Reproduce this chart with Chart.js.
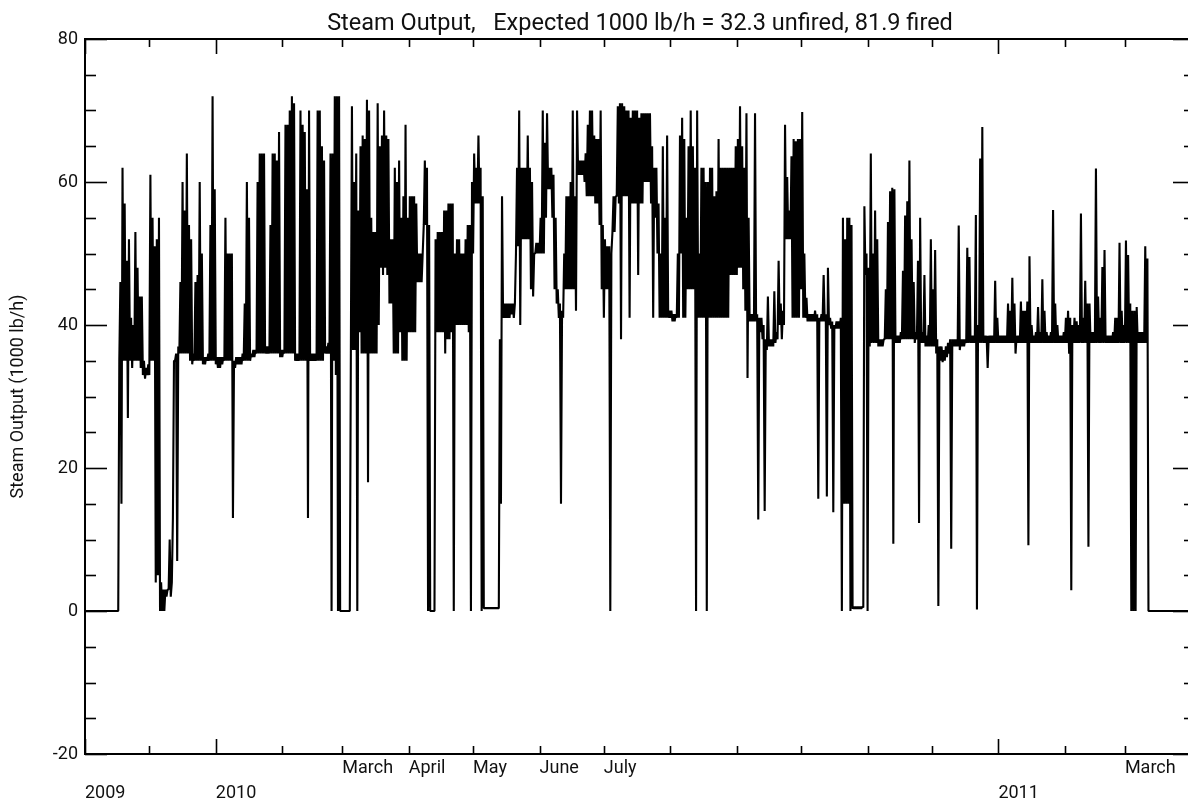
<!DOCTYPE html>
<html><head><meta charset="utf-8">
<script src="https://cdn.jsdelivr.net/npm/chart.js@4.4.1/dist/chart.umd.min.js"></script>
<style>
html,body{margin:0;padding:0;background:#fff;overflow:hidden;width:1188px;height:806px}
#wrap{position:absolute;left:0;top:0;width:1200px;height:806px}
</style></head><body><div id="wrap"><canvas id="c" width="1200" height="806"></canvas></div>
<script>
const FONT = "Roboto, 'Liberation Sans', sans-serif";
const titleText = 'Steam Output,   Expected 1000 lb/h = 32.3 unfired, 81.9 fired';
const yAxisTitle = 'Steam Output (1000 lb/h)';
// x axis: days counted from 1 Nov 2009; ticks at the first day of each month
const monthTickDays = [0,30,61,92,120,151,181,212,242,273,304,334,365,395,426,457,485];
const monthTickLabels = [['','2009'],'',['','2010'],'',['March'],['April'],['May'],['June'],['July'],'','','','','',['','2011'],'',['March']];
const yearTickDays = [0,61,426];
const yTickValues = [-20,-15,-10,-5,0,5,10,15,20,25,30,35,40,45,50,55,60,65,70,75,80];
// daily minimum / maximum of steam output (1000 lb/h), one entry per day
const dailyLow = [
0,0,0,0,0,0,0,0,0,0,
0,0,0,0,0,0,35,15,35,35,
27,35,34,35,35,35,34,33,32.5,33,
33,35,35,4,5,0,0,0,2,3,
2,13,35,7,36,36,36,36,36,35,
34.5,35,35,35,35,34.5,34.5,35,35,35,
35,34.5,34,34,34.5,35,35,35,35,13,
34,34.5,34.5,34.5,35,35,35,35,35.5,35.5,
36,36,36,36,36,36,36,36,36,36,
36,35.5,35.5,36,36,36,36,36,35,35,
35,35,35,35,13,35,35,35,35,35,
35,35,36,36,36,0,35,33,0,0,
0,0,0,0,36.5,36.5,36.5,0,39,36,
36,36,18,36,36,36,36,40,48,47,
48,47,43,43,36,36,36,39,35,35,
35,39,39,39,39,46,46,46,54,54,
0,0,0,0,39,39,39,39,36,38,
38,39,0,40,40,40,40,40,40,39,
0,50,57,57,57,0,0.4,0.4,0.4,0.4,
0.4,0.4,0.4,0.4,15,41,41,41,41,41.5,
41,50,51,40,52,52,52,52,45,44,
50,50,50,50,50,55,59,59,55,45,
43,41,15,41,45,45,45,45,45,42,
61,61,61,60,58,58,58,58,57,57,
54,45,41,45,45,0,53,53,58,57,
38,58,58,58,41,57,57,57,47,57,
57,60,60,60,57,41,55,50,41,41,
41,41,41,41,40.5,40.5,41,41,50,41,
41,45,45,45,45,0,41,41,41,41,
0,41,41,41,41,41,41,41,41,41,
41,47,47,47,47,48,48,45,42,32.6,
40.5,40.5,40.5,40.5,12.8,39,38,14,36.5,37,
37,37,37.5,38,40,38,40,52,52,52,
41,41,41,41,45,41,41,40.5,40.5,40.5,
40.5,40.5,15.7,40.5,40.5,40.5,16,40,39.5,13.8,
39.5,39.5,39.5,0,15,15,15,0,0.3,0.3,
0.3,0.3,0.3,0.5,47,0,37,37.5,37.5,37.5,
37,37,37,38,38,38,38,9.4,37.5,37.5,
37.5,38,38,38,38,38,38,37.5,38,12.3,
37.5,37.5,37,37,37,37,37,36,0.7,35,
34.8,35,35.5,36,8.7,37,37,37,36.5,37,
37,37.5,37.5,37.5,37.5,37.5,0.2,37.5,37.5,37.5,
37.5,34,37.5,37.5,37.5,37.5,37.5,37.5,37.5,37.5,
37.5,37.5,37.5,37.5,36,37.5,37.5,37.5,37.5,37.5,
9.2,37.5,37.5,37.5,37.5,37.5,37.5,37.5,37.5,37.5,
37.5,37.5,37.5,37.5,37.5,37.5,37.5,37.5,37.5,36,
2.9,37.5,37.5,37.5,37.5,37.5,37.5,37.5,9,37.5,
37.5,37.5,37.5,37.5,37.5,37.5,37.5,37.5,37.5,37.5,
37.5,37.5,37.5,37.5,37.5,37.5,37.5,37.5,0,0,
0,37.5,37.5,37.5,37.5,37.5,0,0,0,0,
0,0,0,0,0,0,0,0,0,0,
0,0,0,0,0,0,0,0
];
const dailyHigh = [
0,0,0,0,0,0,0,0,0,0,
0,0,0,0,0,0,46,62,57,49,
52,41,40,53,48,44,44,35,34,34.5,
61,55,51,52,55,4,3,3,3,10,
4,35,36,37,46,60,56,64,54,52,
36,46,47,60,50,35.5,35.5,36,54,72,
59,35.5,35.5,35.5,35.5,55,50,50,50,35,
35.5,35.5,35.5,36,43,60,55,36,36.5,36.5,
60,64,64,64,37,37,54,64,64,63,
67,36.5,36.5,68,68,70,72,71,36,36,
70,68,67,59,70,36,36,36,70,70,
65,63,37,37.5,64,64,72,72,72,0,
0,0,0,0,70.6,60,64,56,65,66.5,
66,71.5,70,55,53,53,71,65,66.5,70,
66.5,66,52,52,62,60,63,55,58,68,
55,58,58,58,57,50,50,50,63,62,
54,0,0,52,53,53,53,56,56,57,
57,57,50,52,52,50,50,52,54,54,
60,64,62,66.5,62,58,0.4,0.4,0.4,0.4,
0.4,0.4,0.4,38,58,43,43,43,43,43,
43,62,70,62,62,62,66.5,62,60,50,
51.5,51.5,55,70,65.5,69.6,62,62,61,55,
45,43,42,50,58,58,60,70,58,70,
63,63,63,64,68,70,70,66.5,66,66,
70,54,52,51,51,50,58,58,70.6,71,
71,70.6,70,70,69,70,70,70,69,69.6,
69.6,69.6,69.6,69.6,65,62,62,57,50,65,
55,66.5,42,42,41.5,41.5,50,66.5,69,66,
55,65,70,65,62,70,50,62,62,60,
60,62,62,58,58.7,66,62,62,62,62,
62,62,62,65,66,70.6,65,62,69.6,55,
41.5,41.5,69.6,41.5,41,41,40,38,44,38,
38,44.7,39,49,43,42,68,60.7,56,63.6,
66,65.7,66,66,69.8,50,43.8,41.5,41.5,41.5,
42,41.5,41,41.5,47,41.5,48,41,40.5,40,
40.5,40.5,41,55,52,55,55,54,0.6,0.6,
0.6,0.6,0.6,56.6,50,48,64,50,56,52,
38,38,38,45,54.4,58.7,59.2,59,38.5,38.5,
39,47.6,55.3,57.3,63,52,46,39,49,55,
39,47,38.5,40,52,45,50.5,38,37,37,
36.5,37,37.5,38,38,38,38,53.9,38,38,
38,50.8,49.5,38.5,38.5,55.4,40,63.3,67.7,38.5,
38.5,38.5,38.5,38.5,46.2,41,38.5,38.5,38.5,38.5,
43,42,46.6,43,38.5,38.5,43.3,42,42,43.3,
49.6,40,38.5,39,42.5,39,46.4,42,39,38.5,
39,56.1,43,40,38.5,38.5,39,41,42,41,
40,41,40.5,40,55.6,41,46.2,43,43,39,
39,61.9,44,41,48.1,50.5,38.5,38.5,38.5,39,
41,41,51.5,42,40,51.8,49.8,43,42,42,
42.5,39,39,39,51,49.3,0,0,0,0,
0,0,0,0,0,0,0,0,0,0,
0,0,0,0,0,0,0,0
];

// trace: within each day go from the daily low to the daily high
const tracePoints = [];
for (let d = 0; d < dailyLow.length; d++) {
  tracePoints.push({x: d, y: dailyLow[d]});
  tracePoints.push({x: d + 0.5, y: dailyHigh[d]});
}

const framePlugin = {
  id: 'frame',
  afterDraw(chart) {
    const {ctx, chartArea: a, scales: {x, y}} = chart;
    ctx.save();
    ctx.strokeStyle = '#000';
    const seg = (x1, y1, x2, y2) => { ctx.beginPath(); ctx.moveTo(x1, y1); ctx.lineTo(x2, y2); ctx.stroke(); };
    ctx.lineWidth = 1.6;
    yTickValues.forEach(v => {
      const py = Math.round(y.getPixelForValue(v)) + 0.5;
      const L = v % 20 === 0 ? 22 : 11;
      seg(a.left, py, a.left + L, py);
      seg(a.right, py, a.right - L, py);
    });
    monthTickDays.forEach(d => {
      const px = Math.round(x.getPixelForValue(d)) + 0.5;
      const L = yearTickDays.includes(d) ? 15 : 8;
      seg(px, a.bottom, px, a.bottom - L);
      seg(px, a.top, px, a.top + L);
    });
    ctx.lineWidth = 2;
    ctx.strokeRect(a.left, a.top, a.right - a.left, a.bottom - a.top);
    ctx.restore();
  }
};

new Chart(document.getElementById('c'), {
  type: 'line',
  data: { datasets: [{
    data: tracePoints, borderColor: '#000', borderWidth: 2.1, pointRadius: 0,
    tension: 0, fill: false, borderJoinStyle: 'bevel'
  }]},
  options: {
    responsive: false, animation: false, events: [],
    layout: { padding: { top: 0, right: 5, left: 0, bottom: 0 } },
    plugins: {
      legend: { display: false }, tooltip: { enabled: false },
      title: { display: true, fullSize: false, text: titleText, color: '#111',
        font: { family: FONT, size: 23.5, weight: 'normal', lineHeight: '28px' },
        padding: { top: 10, bottom: 1 } }
    },
    scales: {
      x: {
        type: 'linear', min: 0, max: 517.7,
        grid: { display: false, drawTicks: false }, border: { display: false },
        afterBuildTicks: s => { s.ticks = monthTickDays.map(v => ({ value: v })); },
        afterFit: s => { s.height = 52; },
        ticks: { autoSkip: false, maxRotation: 0, minRotation: 0, align: 'start', padding: 2, color: '#111',
          font: { family: FONT, size: 18, lineHeight: '25px' },
          callback: (v, i) => monthTickLabels[i] }
      },
      y: {
        min: -20, max: 80,
        grid: { display: false, drawTicks: false }, border: { display: false },
        afterFit: s => { s.width = 85; },
        ticks: { stepSize: 20, padding: 7, color: '#111', font: { family: FONT, size: 18 } },
        title: { display: true, text: yAxisTitle, color: '#111',
          font: { family: FONT, size: 18 }, padding: { top: 8, bottom: 0 } }
      }
    }
  },
  plugins: [framePlugin]
});
</script></body></html>
